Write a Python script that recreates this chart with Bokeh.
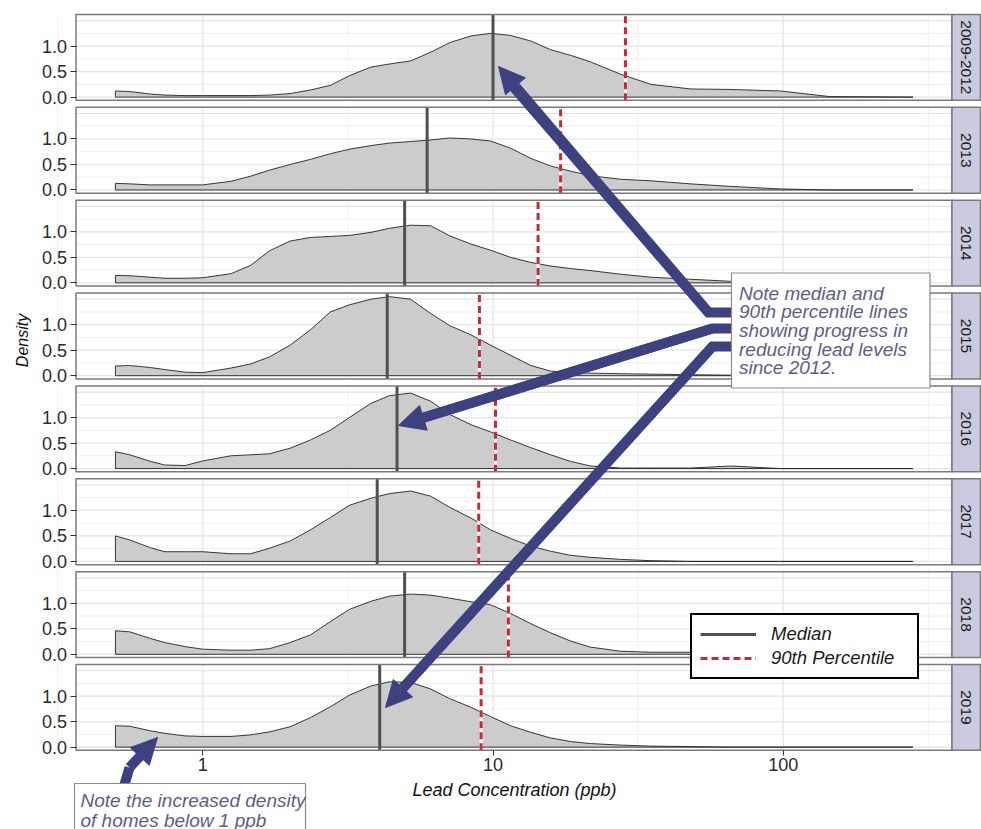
import math
from bokeh.plotting import figure
from bokeh.models import (Range1d, LogAxis, LinearAxis, FixedTicker, BasicTickFormatter,
                          Legend, LegendItem, Arrow, NormalHead)
from bokeh.embed import file_html
from bokeh.resources import INLINE
from bokeh.core.properties import value

# ---------------- data ----------------
panels = ["2009-2012", "2013", "2014", "2015", "2016", "2017", "2018", "2019"]
lead_ppb = [0.5, 0.56, 0.66, 0.74, 0.87, 1.0, 1.25, 1.46, 1.7, 2.0, 2.35, 2.75, 3.2, 3.8,
            4.4, 5.2, 6.1, 7.1, 8.4, 9.8, 11.5, 13.5, 15.8, 18.5, 21.7, 27.5, 35, 48, 66,
            98, 145, 280]
density_2009_2012 = [0.12, 0.11, 0.06, 0.04, 0.03, 0.03, 0.03, 0.03, 0.04, 0.07, 0.14, 0.23,
                     0.42, 0.59, 0.65, 0.71, 0.88, 1.07, 1.2, 1.25, 1.21, 1.1, 0.93, 0.82,
                     0.69, 0.45, 0.25, 0.16, 0.15, 0.12, 0.01, 0.0]
density_2013 = [0.13, 0.12, 0.1, 0.1, 0.1, 0.1, 0.17, 0.27, 0.39, 0.5, 0.6, 0.71, 0.8, 0.87,
                0.92, 0.95, 0.98, 1.02, 1.0, 0.96, 0.82, 0.62, 0.47, 0.37, 0.28, 0.21, 0.18,
                0.12, 0.07, 0.02, 0.0, 0.0]
density_2014 = [0.145, 0.14, 0.11, 0.09, 0.09, 0.1, 0.18, 0.34, 0.63, 0.82, 0.89, 0.91, 0.93,
                0.99, 1.07, 1.13, 1.12, 0.92, 0.76, 0.64, 0.5, 0.4, 0.33, 0.28, 0.24, 0.17,
                0.11, 0.07, 0.03, 0.01, 0.0, 0.0]
density_2015 = [0.19, 0.2, 0.16, 0.12, 0.07, 0.06, 0.15, 0.23, 0.37, 0.6, 0.9, 1.25, 1.39,
                1.5, 1.55, 1.5, 1.22, 0.98, 0.8, 0.6, 0.4, 0.2, 0.09, 0.06, 0.05, 0.04, 0.03,
                0.02, 0.01, 0.0, 0.0, 0.0]
density_2016 = [0.33, 0.27, 0.14, 0.07, 0.06, 0.15, 0.25, 0.27, 0.29, 0.4, 0.56, 0.75, 1.0,
                1.28, 1.43, 1.48, 1.32, 1.06, 0.86, 0.72, 0.56, 0.41, 0.27, 0.14, 0.05, 0.01,
                0.01, 0.01, 0.05, 0.0, 0.0, 0.0]
density_2017 = [0.5, 0.42, 0.27, 0.19, 0.19, 0.19, 0.15, 0.15, 0.26, 0.4, 0.62, 0.86, 1.1,
                1.24, 1.33, 1.38, 1.28, 1.06, 0.85, 0.62, 0.45, 0.3, 0.2, 0.12, 0.08, 0.04,
                0.015, 0.0, 0.0, 0.0, 0.0, 0.0]
density_2018 = [0.46, 0.44, 0.31, 0.23, 0.15, 0.1, 0.08, 0.08, 0.11, 0.23, 0.38, 0.64, 0.88,
                1.04, 1.14, 1.18, 1.16, 1.1, 1.03, 0.97, 0.8, 0.6, 0.42, 0.26, 0.14, 0.06,
                0.04, 0.04, 0.02, 0.01, 0.0, 0.0]
density_2019 = [0.42, 0.41, 0.32, 0.27, 0.22, 0.21, 0.21, 0.24, 0.3, 0.4, 0.58, 0.79, 1.02,
                1.2, 1.28, 1.27, 1.14, 0.95, 0.78, 0.6, 0.42, 0.29, 0.18, 0.11, 0.07, 0.04,
                0.02, 0.01, 0.0, 0.0, 0.0, 0.0]
densities = [density_2009_2012, density_2013, density_2014, density_2015,
             density_2016, density_2017, density_2018, density_2019]
median_ppb = [10.0, 5.93, 4.96, 4.32, 4.67, 3.99, 4.96, 4.07]
p90_ppb = [28.6, 17.1, 14.3, 8.98, 10.2, 8.93, 11.3, 9.1]
x_ticks = [1, 10, 100]
y_ticks = [0.0, 0.5, 1.0]
y_tick_labels = ["0.0", "0.5", "1.0"]
note_main = ["Note median and", "90th percentile lines", "showing progress in",
             "reducing lead levels", "since 2012."]
note_low = ["Note the increased density", "of homes below 1 ppb"]

# ---------------- layout (screen px) ----------------
W, H = 981, 829
PX_X1, PX_DEC = 202.3, 290.2      # screen x of 1 ppb, px per decade
PX_UNIT = 51.0                    # px per density unit
TOP0, PITCH = 14.0, 92.86         # first panel top, panel pitch
Y_LO, Y_HI = -0.063, 1.62         # panel density range

FONT_NAME = "Liberation Sans"
FONT = value(FONT_NAME)
NAVY = "#3e4180"
NOTE_COL = "#5d5d88"
RED = "#c8283a"


def dx(sx):
    return 10 ** ((sx - PX_X1) / PX_DEC)


def dy(sy):
    return (H - sy) / PX_UNIT


offsets = [round(dy(TOP0 + k * PITCH) - Y_HI, 6) for k in range(len(panels))]
XLO, XHI = dx(75.5), dx(951.5)
XSTRIP = dx(980)

p = figure(width=W, height=H, x_axis_type="log",
           x_range=Range1d(dx(0), dx(W)), y_range=Range1d(dy(H), dy(0)),
           x_axis_location=None, y_axis_location=None, toolbar_location=None,
           output_backend="svg", min_border=0, outline_line_color=None,
           background_fill_color="white", border_fill_color="white")
p.grid.visible = False

# ---------------- grid lines per panel ----------------
hmaj_y, hmin_y = [], []
vmaj_x, vmaj_y0, vmaj_y1 = [], [], []
vmin_x, vmin_y0, vmin_y1 = [], [], []
for off in offsets:
    for t in [0.0, 0.5, 1.0, 1.5]:
        hmaj_y.append(off + t)
    for t in [0.25, 0.75, 1.25]:
        hmin_y.append(off + t)
    for t in x_ticks:
        vmaj_x.append(t); vmaj_y0.append(off + Y_LO); vmaj_y1.append(off + Y_HI)
    for e in [-0.5, 0.5, 1.5, 2.5]:
        vmin_x.append(10 ** e); vmin_y0.append(off + Y_LO); vmin_y1.append(off + Y_HI)

p.segment(x0=[XLO] * len(hmin_y), x1=[XHI] * len(hmin_y), y0=hmin_y, y1=hmin_y,
          line_color="#f0f0f0", line_width=1)
p.segment(x0=vmin_x, x1=vmin_x, y0=vmin_y0, y1=vmin_y1, line_color="#f0f0f0", line_width=1)
p.segment(x0=[XLO] * len(hmaj_y), x1=[XHI] * len(hmaj_y), y0=hmaj_y, y1=hmaj_y,
          line_color="#e4e4e4", line_width=1.2)
p.segment(x0=vmaj_x, x1=vmaj_x, y0=vmaj_y0, y1=vmaj_y1, line_color="#e4e4e4", line_width=1.2)

# ---------------- density areas ----------------
xs, ys = [], []
for off, dens in zip(offsets, densities):
    xs.append(lead_ppb + [lead_ppb[-1], lead_ppb[0]])
    ys.append([off + d for d in dens] + [off, off])
p.patches(xs=xs, ys=ys, fill_color="#cccccc", line_color="#222222", line_width=0.9)

# ---------------- median / 90th percentile lines ----------------
y0s = [off + Y_LO for off in offsets]
y1s = [off + Y_HI for off in offsets]
med_r = p.segment(x0=median_ppb, x1=median_ppb, y0=y0s, y1=y1s,
                  line_color="#505050", line_width=3)
p.segment(x0=p90_ppb, x1=p90_ppb, y0=y0s, y1=y1s, line_color="white", line_width=3)
p90_r = p.segment(x0=p90_ppb, x1=p90_ppb, y0=y0s, y1=y1s, line_color=RED,
                  line_width=3, line_dash="7 4")

# ---------------- panel borders and strips ----------------
p.quad(left=[XLO] * 8, right=[XHI] * 8, bottom=y0s, top=y1s, fill_color=None,
       line_color="#7a7a7a", line_width=1.5)
p.quad(left=[XHI] * 8, right=[XSTRIP] * 8, bottom=y0s, top=y1s, fill_color="#cacae0",
       line_color="#7a7a7a", line_width=1.5)
p.text(x=[math.sqrt(XHI * XSTRIP)] * 8, y=[(a + b) / 2 for a, b in zip(y0s, y1s)],
       text=panels, angle=-math.pi / 2, text_align="center", text_baseline="middle",
       text_font=FONT, text_font_size="15.5px", text_color="#1a1a1a")

# ---------------- axes ----------------
xaxis = LogAxis(fixed_location=offsets[-1] + Y_LO, bounds=(XLO, XHI),
                ticker=FixedTicker(ticks=x_ticks), formatter=BasicTickFormatter(),
                axis_label="Lead Concentration (ppb)", axis_line_color=None,
                major_tick_in=0, major_tick_out=5, major_tick_line_color="#333333",
                minor_tick_line_color=None, major_label_standoff=3,
                major_label_text_font=FONT_NAME, major_label_text_font_size="18px",
                major_label_text_color="#2b2b2b", axis_label_standoff=5,
                axis_label_text_font=FONT_NAME, axis_label_text_font_size="18px",
                axis_label_text_font_style="italic", axis_label_text_color="#111111")
p.add_layout(xaxis, "below")

ytick_vals, overrides = [], {}
for off in offsets:
    for t, lab in zip(y_ticks, y_tick_labels):
        v = round(off + t, 6)
        ytick_vals.append(v)
        overrides[v] = lab
yaxis = LinearAxis(fixed_location=XLO, ticker=FixedTicker(ticks=ytick_vals),
                   major_label_overrides=overrides, axis_line_color=None,
                   major_tick_in=0, major_tick_out=6, major_tick_line_color="#333333",
                   minor_tick_line_color=None, major_label_standoff=3,
                   major_label_text_font=FONT_NAME, major_label_text_font_size="18px",
                   major_label_text_color="#2b2b2b")
p.add_layout(yaxis, "left")

p.text(x=[dx(22)], y=[dy(340)], text=["Density"], angle=math.pi / 2, text_align="center",
       text_baseline="middle", text_font=FONT, text_font_size="16px",
       text_font_style="italic", text_color="#111111")

# ---------------- annotation arrows ----------------
shafts = [[(733, 312), (708, 312), (510, 83)],
          [(733, 328), (712, 328), (420, 418)],
          [(733, 346), (712, 346), (400, 690)],
          [(124, 784), (129, 767)]]
p.multi_line(xs=[[dx(a) for a, _ in s] for s in shafts],
             ys=[[dy(b) for _, b in s] for s in shafts],
             line_color=NAVY, line_width=10, line_join="miter")
heads = [((708, 312), (498, 66)), ((712, 328), (398, 425)),
         ((712, 346), (385, 707)), ((129, 767), (157, 737))]
for (sx0, sy0), (sx1, sy1) in heads:
    p.add_layout(Arrow(end=NormalHead(size=26, fill_color=NAVY, line_color=NAVY),
                       x_start=dx(sx0), y_start=dy(sy0), x_end=dx(sx1), y_end=dy(sy1),
                       line_color=NAVY, line_width=10))

# ---------------- note boxes ----------------
p.quad(left=[dx(731), dx(74)], right=[dx(929.5), dx(305)],
       top=[dy(272.5), dy(783)], bottom=[dy(387.5), dy(840)],
       fill_color="white", line_color="#8c8c8c", line_width=1.2)
p.text(x=[dx(738.5)] * len(note_main), y=[dy(292.7 + i * 18.65) for i in range(len(note_main))],
       text=note_main, text_align="left", text_baseline="middle", text_font=FONT,
       text_font_size="19px", text_font_style="italic", text_color=NOTE_COL)
p.text(x=[dx(80)] * len(note_low), y=[dy(799.5 + i * 20) for i in range(len(note_low))],
       text=note_low, text_align="left", text_baseline="middle", text_font=FONT,
       text_font_size="19px", text_font_style="italic", text_color=NOTE_COL)

# ---------------- legend ----------------
legend = Legend(items=[LegendItem(label="Median", renderers=[med_r]),
                       LegendItem(label="90th Percentile", renderers=[p90_r])],
                location=(690, H - 679), margin=0, padding=8, spacing=2,
                glyph_width=56, glyph_height=20, label_height=20, label_width=138,
                label_standoff=15, label_text_font=FONT_NAME, label_text_font_size="18.5px",
                label_text_font_style="italic", label_text_color="#1a1a1a",
                border_line_color="#000000", border_line_width=2, border_line_alpha=1.0,
                background_fill_color="white", background_fill_alpha=1.0)
p.add_layout(legend)

open("out.html", "w").write(file_html(p, INLINE))
